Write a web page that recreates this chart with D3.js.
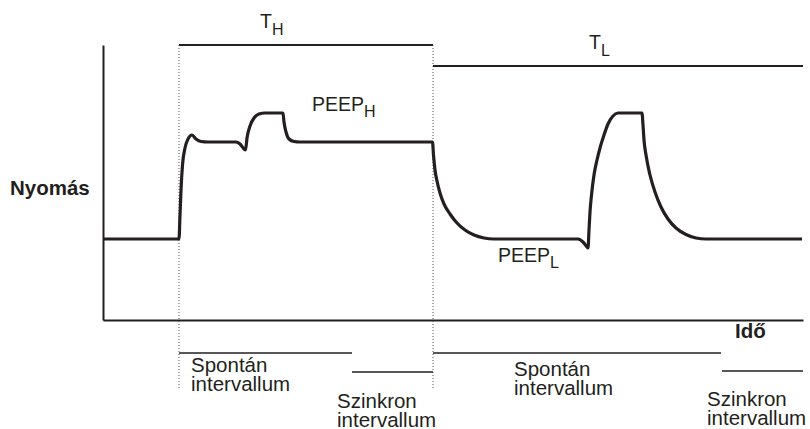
<!DOCTYPE html>
<html>
<head>
<meta charset="utf-8">
<script src="https://cdn.jsdelivr.net/npm/d3@7/dist/d3.min.js"></script>
<style>
  body { margin: 0; background: #fff; }
  text { font-family: "Liberation Sans", Arial, sans-serif; fill: #231f20; }
  .lbl { font-size: 19.5px; }
  .ivl { font-size: 20.5px; }
  .sub { font-size: 16px; }
  .bold { font-weight: bold; font-size: 20.5px; }
</style>
</head>
<body>
<div id="chart"></div>
<script>
// APRV pressure/time curve
(function () {
var time = [0, 7.6, 7.7, 7.8, 7.95, 8.2, 8.5, 8.9, 9.3, 9.8, 10.5, 13.3, 13.7, 14.1, 14.25,
            14.4, 14.7, 15.1, 15.6, 16.2, 18.0, 18.1, 18.3, 18.6, 19.1, 19.7, 32.95,
            33.05, 33.2, 33.4, 33.7, 34.1, 34.7, 35.4, 36.2, 37.1, 38.1, 39.1, 47.5,
            48.0, 48.4, 48.5, 48.6, 48.7, 48.85, 49.1, 49.4, 49.7, 50.1, 50.5, 51.0,
            51.5, 53.9, 54.0, 54.1, 54.3, 54.7, 55.2, 55.8, 56.5, 57.3, 58.3, 59.3,
            60.3, 69.9];
var pressure = [8.1, 8.1, 10.5, 13.0, 15.5, 17.2, 18.1, 18.5, 18.1, 17.85, 17.8, 17.8, 17.6, 17.1, 17.0,
                18.2, 19.4, 20.2, 20.6, 20.7, 20.7, 19.8, 18.8, 18.1, 17.85, 17.8, 17.8,
                16.5, 15.0, 13.9, 12.7, 11.6, 10.6, 9.7, 9.0, 8.5, 8.2, 8.1, 8.1,
                7.8, 7.3, 7.2, 9.0, 10.8, 12.5, 14.5, 16.0, 17.2, 18.5, 19.6, 20.4,
                20.7, 20.7, 19.5, 18.0, 16.5, 14.5, 12.8, 11.3, 10.1, 9.2, 8.55, 8.2,
                8.1, 8.1];

var phaseNames = ["H", "L"];
var phaseStart = [7.6, 33.0];
var phaseEnd = [33.0, 70];

var intervalNames = ["Spontán", "Szinkron", "Spontán", "Szinkron"];
var intervalStart = [7.6, 24.9, 33.0, 61.9];
var intervalEnd = [24.9, 33.0, 61.8, 70];

var width = 810, height = 429;

var x = d3.scaleLinear().domain([0, 70]).range([103, 803]);
var y = d3.scaleLinear().domain([0, 27.5]).range([320, 45]);

var svg = d3.select("#chart").append("svg")
    .attr("width", width)
    .attr("height", height);

var ink = "#231f20";

// axes without ticks
svg.append("g")
    .attr("transform", "translate(" + x(0) + ",0)")
    .call(d3.axisLeft(y).tickValues([]).tickSizeOuter(0))
    .select(".domain").attr("stroke", ink).attr("stroke-width", 2);

svg.append("g")
    .attr("transform", "translate(0," + y(0) + ")")
    .call(d3.axisBottom(x).tickValues([]).tickSizeOuter(0))
    .select(".domain").attr("stroke", ink).attr("stroke-width", 2);

// dotted phase boundaries
phaseStart.forEach(function (t) {
  svg.append("line")
      .attr("x1", x(t)).attr("x2", x(t))
      .attr("y1", y(27.5)).attr("y2", 389)
      .attr("stroke", "#555").attr("stroke-width", 1)
      .attr("stroke-dasharray", "1,2");
});

// phase length bars (T_H, T_L)
var phaseY = [45, 66];
phaseNames.forEach(function (n, i) {
  svg.append("line")
      .attr("x1", x(phaseStart[i])).attr("x2", x(phaseEnd[i]))
      .attr("y1", phaseY[i]).attr("y2", phaseY[i])
      .attr("stroke", ink).attr("stroke-width", 2);
});
var phaseLblX = [260, 589], phaseLblY = [28, 49];
phaseNames.forEach(function (n, i) {
  var t = svg.append("text").attr("class", "lbl")
      .attr("x", phaseLblX[i]).attr("y", phaseLblY[i]);
  t.append("tspan").text("T");
  t.append("tspan").attr("class", "sub").attr("dx", 0).attr("dy", 7).text(n);
});

// pressure curve
var line = d3.line()
    .x(function (d, i) { return x(time[i]); })
    .y(function (d, i) { return y(pressure[i]); })
    .curve(d3.curveMonotoneX);

svg.append("path")
    .datum(time)
    .attr("d", line)
    .attr("fill", "none")
    .attr("stroke", ink)
    .attr("stroke-width", 3.2)
    .attr("stroke-linejoin", "round");

// PEEP labels
var peep = [{sub: "H", x: 312, y: 111}, {sub: "L", x: 498, y: 262}];
peep.forEach(function (p) {
  var t = svg.append("text").attr("class", "lbl").attr("x", p.x).attr("y", p.y);
  t.append("tspan").text("PEEP");
  t.append("tspan").attr("class", "sub").attr("dy", 6).text(p.sub);
});

// interval bars and labels
var barY = [353, 372, 353, 371];
var lblDx = [12, -15, 81, -15];
var lblY = [372, 408, 376, 406];
intervalNames.forEach(function (n, i) {
  svg.append("line")
      .attr("x1", x(intervalStart[i])).attr("x2", x(intervalEnd[i]))
      .attr("y1", barY[i]).attr("y2", barY[i])
      .attr("stroke", ink).attr("stroke-width", 1.5);
  var lx = x(intervalStart[i]) + lblDx[i];
  svg.append("text").attr("class", "ivl").attr("x", lx).attr("y", lblY[i]).text(n);
  svg.append("text").attr("class", "ivl").attr("x", lx).attr("y", lblY[i] + 19).text("intervallum");
});

// axis titles
svg.append("text").attr("class", "bold").attr("x", 10).attr("y", 195).text("Nyomás");
svg.append("text").attr("class", "bold").attr("x", 735).attr("y", 338).text("Idő");
})();
</script>
</body>
</html>
